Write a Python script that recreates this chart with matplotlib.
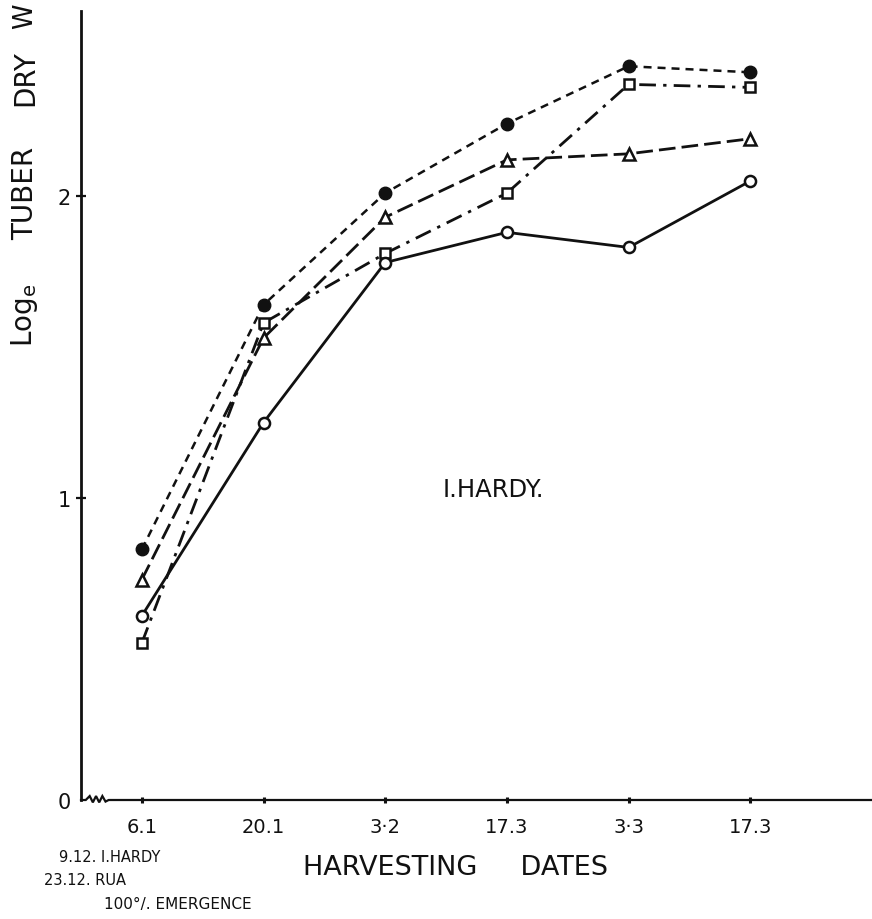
import numpy as np
import matplotlib
matplotlib.use("Agg")
import matplotlib.pyplot as plt

# harvesting dates and log_e tuber dry weight per treatment
dates = ["6.1", "20.1", "3·2", "17.3", "3·3", "17.3"]
filled_circle = [0.83, 1.64, 2.01, 2.24, 2.43, 2.41]
open_triangle = [0.73, 1.53, 1.93, 2.12, 2.14, 2.19]
open_square = [0.52, 1.58, 1.81, 2.01, 2.37, 2.36]
open_circle = [0.61, 1.25, 1.78, 1.88, 1.83, 2.05]
y_ticks = [0, 1, 2]

ink = "#111111"
plt.rcParams["font.family"] = "DejaVu Sans"
plt.rcParams["mathtext.default"] = "regular"

W, H = 872, 920
fig = plt.figure(figsize=(W / 100, H / 100), dpi=100)
ax = fig.add_axes([81 / W, (H - 801) / H, 1 - 81 / W, (801 - 12) / H])

x = np.arange(len(dates))

""" data lines """
ax.plot(x, filled_circle, color=ink, lw=1.8, dashes=[3.2, 2.4],
        marker="o", ms=9, mfc=ink, mec=ink, zorder=4)
ax.plot(x, open_triangle, color=ink, lw=2.0, dashes=[6, 2.2],
        marker="^", ms=8.5, mfc="white", mec=ink, mew=1.8, zorder=4)
ax.plot(x, open_square, color=ink, lw=2.0, dashes=[6, 2.6, 1.2, 2.6],
        marker="s", ms=7, mfc="white", mec=ink, mew=1.8, zorder=4)
ax.plot(x, open_circle, color=ink, lw=2.0, ls="-",
        marker="o", ms=8, mfc="white", mec=ink, mew=1.8, zorder=4)

""" axes """
ax.set_xlim(-0.5, 6.0)
ax.set_ylim(0, 2.613)
for side in ["top", "right", "bottom"]:
    ax.spines[side].set_visible(False)
ax.spines["left"].set_linewidth(2.0)
ax.spines["left"].set_color(ink)

# x axis drawn by hand with a break near the origin
zx = [0, 0.006, 0.011, 0.015, 0.019, 0.023, 0.027, 0.031, 0.035, 1.0]
zy = [0, 0, 0.005, -0.003, 0.005, -0.003, 0.005, -0.002, 0, 0]
ax.plot(zx, zy, transform=ax.transAxes, color=ink, lw=1.6, clip_on=False,
        solid_joinstyle="miter")

ax.set_xticks(x)
ax.set_xticklabels(dates, fontsize=14, color=ink)
ax.tick_params(axis="x", direction="inout", length=5, width=2.2, pad=10, colors=ink)
ax.set_yticks(y_ticks)
ax.set_yticklabels([str(v) for v in y_ticks], fontsize=15, color=ink)
ax.tick_params(axis="y", direction="inout", length=7, width=1.6, pad=4, colors=ink)
ax.yaxis.get_major_ticks()[0].tick1line.set_visible(False)

""" labels """
ax.text(2.89, 1.03, "I.HARDY.", fontsize=17.5, color=ink, ha="center", va="center")

fig.text(455 / W, 1 - 868 / H, "HARVESTING     DATES", fontsize=19.5, color=ink,
         ha="center", va="center")

# y label, one word at a time
fig.text(25 / W, 1 - 347 / H, "Log$_e$", fontsize=20, color=ink,
         rotation=90, ha="center", va="bottom")
fig.text(25 / W, 1 - 193 / H, "TUBER", fontsize=20, color=ink,
         rotation=90, ha="center", va="center")
fig.text(25 / W, 1 - 78 / H, "DRY", fontsize=20, color=ink,
         rotation=90, ha="center", va="center")
fig.text(25 / W, 1 - 16 / H, "W", fontsize=18.5, color=ink,
         rotation=90, ha="center", va="center")

fig.text(59 / W, 1 - 858 / H, "9.12. I.HARDY", fontsize=10.5, color=ink, va="center")
fig.text(44 / W, 1 - 881 / H, "23.12. RUA", fontsize=10.5, color=ink, va="center")
fig.text(104 / W, 1 - 905 / H, "100°/. EMERGENCE", fontsize=11, color=ink, va="center")

fig.savefig("out.png", dpi=100)
